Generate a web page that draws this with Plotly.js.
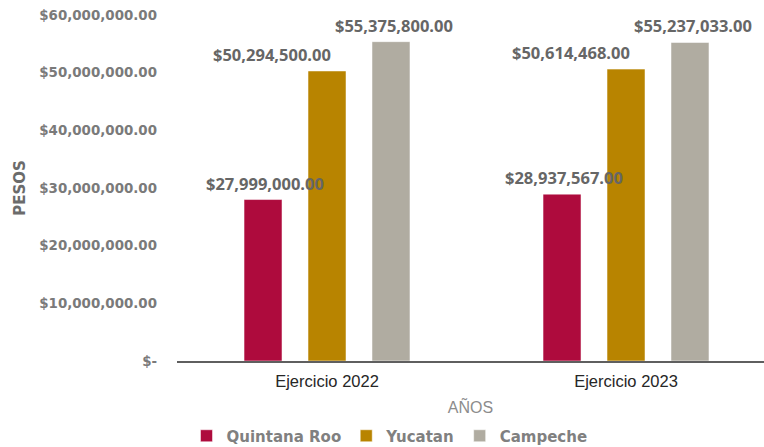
<!DOCTYPE html>
<html>
<head>
<meta charset="utf-8">
<script src="https://cdn.plot.ly/plotly-3.0.1.min.js"></script>
<style>html,body{margin:0;padding:0;background:#fff;}#chart{width:764px;height:447px;}</style>
</head>
<body>
<div id="chart"></div>
<script>
// ---- data ----
const categories = ['Ejercicio 2022', 'Ejercicio 2023'];
const seriesNames = ['Quintana Roo', 'Yucatan', 'Campeche'];
const quintanaRoo = [27999000, 28937567];
const yucatan = [50294500, 50614468];
const campeche = [55375800, 55237033];
const yTickVals = [0, 10000000, 20000000, 30000000, 40000000, 50000000, 60000000];
const yTickText = ['$-', '$10,000,000.00', '$20,000,000.00', '$30,000,000.00', '$40,000,000.00', '$50,000,000.00', '$60,000,000.00'];

// ---- style ----
const colors = ['#AE0B3D', '#B88400', '#B0ACA1'];
const centers = [-0.214, 0, 0.214];
const barWidth = 0.127;
const labelShift = [0.007, -0.184, 0.01];
const seriesValues = [quintanaRoo, yucatan, campeche];

function money(v) {
  return '$' + v.toLocaleString('en-US', {minimumFractionDigits: 2, maximumFractionDigits: 2});
}

const traces = seriesValues.map((vals, s) => ({
  type: 'bar',
  name: seriesNames[s],
  x: categories,
  y: vals,
  width: barWidth,
  offset: centers[s] - barWidth / 2,
  marker: {color: colors[s], line: {color: '#ffffff', width: 0.5}},
  hoverinfo: 'none'
}));

const annotations = [];
seriesValues.forEach((vals, s) => {
  vals.forEach((v, i) => {
    annotations.push({
      x: i + centers[s] + labelShift[s],
      y: v,
      xref: 'x', yref: 'y',
      text: money(v),
      showarrow: false,
      yanchor: 'bottom',
      yshift: 3,
      font: {family: 'Open Sans', size: 16.5, color: '#666666', weight: 700}
    });
  });
});

const layout = {
  width: 764, height: 447,
  margin: {l: 177, r: 0, t: 15, b: 86, autoexpand: false},
  paper_bgcolor: '#ffffff', plot_bgcolor: '#ffffff',
  barmode: 'overlay',
  showlegend: true,
  legend: {
    orientation: 'h', xref: 'paper', x: 0.362, xanchor: 'center',
    yref: 'container', y: 0.0246, yanchor: 'middle',
    font: {family: 'DejaVu Sans', size: 15, color: '#808080', weight: 700},
    traceorder: 'normal'
  },
  xaxis: {
    type: 'category',
    range: [-0.5017, 1.4615],
    showline: true, linecolor: '#5f5f5f', linewidth: 2,
    ticks: '', showgrid: false, zeroline: false,
    ticklabelstandoff: 4,
    automargin: false,
    tickfont: {family: 'Liberation Sans', size: 16.5, color: '#262626'},
    title: {text: 'AÑOS', font: {family: 'Liberation Sans', size: 16, color: '#8c8c8c'}, standoff: 13}
  },
  yaxis: {
    range: [0, 60000000],
    tickvals: yTickVals, ticktext: yTickText,
    showline: false, showgrid: false, zeroline: false, ticks: '',
    ticklabelstandoff: 19,
    automargin: false,
    tickfont: {family: 'DejaVu Sans', size: 13.4, color: '#7a7a7a', weight: 700},
    title: {text: 'PESOS', font: {family: 'DejaVu Sans', size: 15, color: '#6b6b6b', weight: 700}, standoff: 10}
  },
  annotations: annotations
};

Plotly.newPlot('chart', traces, layout, {displayModeBar: false, staticPlot: true});
</script>
</body>
</html>
